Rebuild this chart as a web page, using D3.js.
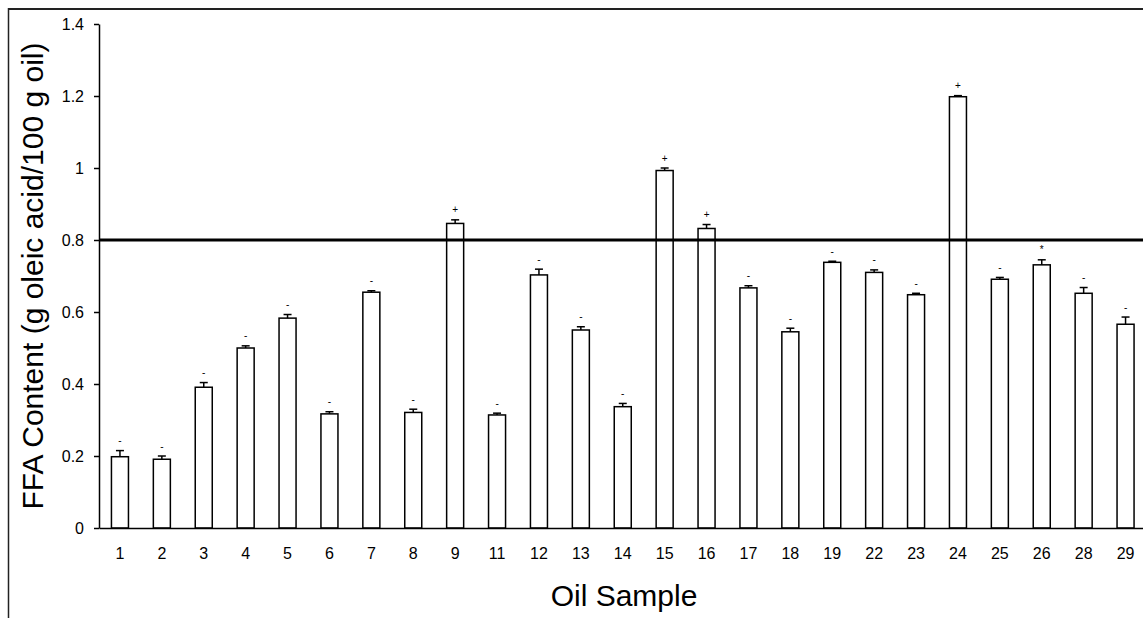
<!DOCTYPE html>
<html>
<head>
<meta charset="utf-8">
<script src="https://cdn.jsdelivr.net/npm/d3@7/dist/d3.min.js"></script>
<style>
  html, body { margin: 0; padding: 0; background: #fff; }
  svg { display: block; font-family: "Liberation Sans", Arial, sans-serif; }
</style>
</head>
<body>
<svg id="chart" width="1143" height="618"></svg>
<script>
const categories = ["1","2","3","4","5","6","7","8","9","11","12","13","14","15","16","17","18","19","22","23","24","25","26","28","29"];
const ffaValues  = [0.198,0.191,0.391,0.500,0.583,0.317,0.655,0.321,0.846,0.314,0.703,0.550,0.337,0.993,0.832,0.667,0.545,0.738,0.710,0.648,1.198,0.691,0.731,0.652,0.566];
const ffaErrors  = [0.017,0.009,0.013,0.006,0.010,0.006,0.004,0.009,0.010,0.005,0.016,0.009,0.009,0.007,0.011,0.006,0.010,0.003,0.007,0.004,0.003,0.005,0.014,0.016,0.020];
const markers    = ["-","-","-","-","-","-","-","-","+","-","-","-","-","+","+","-","-","-","-","-","+","-","*","-","-"];
const yTickValues = [0, 0.2, 0.4, 0.6, 0.8, 1.0, 1.2, 1.4];
const yTickLabels = ["0","0.2","0.4","0.6","0.8","1","1.2","1.4"];
const limitValue = 0.8;
const xTitle = "Oil Sample";
const yTitle = "FFA Content (g oleic acid/100 g oil)";

(function () {
const svg = d3.select("#chart");
const W = 1143, H = 618;
const pLeft = 99, pTop = 24, pBottom = 528, pRight = 1146.5;

const x = d3.scaleBand().domain(categories).range([pLeft, pRight]).paddingInner(0.594).paddingOuter(0.297);
const y = d3.scaleLinear().domain([0, 1.4]).range([pBottom, pTop]);

const data = categories.map((c, i) => ({ c, v: ffaValues[i], e: ffaErrors[i], m: markers[i] }));

// frame
svg.append("line").attr("x1", 8).attr("x2", W).attr("y1", 9).attr("y2", 9).attr("stroke", "#222").attr("stroke-width", 2);
svg.append("line").attr("x1", 8.5).attr("x2", 8.5).attr("y1", 8).attr("y2", H).attr("stroke", "#222").attr("stroke-width", 1.5);

// bars
const bw = x.bandwidth();
svg.append("g").selectAll("rect").data(data).join("rect")
  .attr("x", d => x(d.c))
  .attr("y", d => y(d.v))
  .attr("width", bw)
  .attr("height", d => y(0) - y(d.v))
  .attr("fill", "#fff")
  .attr("stroke", "#000")
  .attr("stroke-width", 1.5);

// error bars
const eg = svg.append("g").attr("stroke", "#000").attr("stroke-width", 1.5);
eg.selectAll("line.v").data(data).join("line").attr("class", "v")
  .attr("x1", d => x(d.c) + bw / 2).attr("x2", d => x(d.c) + bw / 2)
  .attr("y1", d => y(d.v)).attr("y2", d => y(d.v + d.e));
eg.selectAll("line.cap").data(data).join("line").attr("class", "cap")
  .attr("x1", d => x(d.c) + bw / 2 - 4).attr("x2", d => x(d.c) + bw / 2 + 4)
  .attr("y1", d => y(d.v + d.e)).attr("y2", d => y(d.v + d.e));

// markers
svg.append("g").selectAll("text").data(data).join("text")
  .attr("x", d => x(d.c) + bw / 2)
  .attr("y", d => y(d.v + d.e) - 6.5)
  .attr("text-anchor", "middle")
  .attr("font-size", 10)
  .attr("fill", "#000")
  .text(d => d.m);

// limit line
svg.append("line")
  .attr("x1", pLeft).attr("x2", W)
  .attr("y1", y(limitValue)).attr("y2", y(limitValue))
  .attr("stroke", "#000").attr("stroke-width", 3);

// y axis
const yAxis = d3.axisLeft(y).tickValues(yTickValues)
  .tickFormat((d, i) => yTickLabels[i]).tickSize(5).tickSizeOuter(0).tickPadding(10);
const yg = svg.append("g").attr("transform", `translate(${pLeft},0)`).call(yAxis);
yg.attr("font-size", 16).attr("font-family", "Liberation Sans, Arial, sans-serif");
yg.select(".domain").attr("stroke", "#000").attr("stroke-width", 1.5);
yg.selectAll(".tick line").attr("stroke", "#000").attr("stroke-width", 1.5);
yg.selectAll(".tick text").attr("fill", "#000");

// x axis
const xAxis = d3.axisBottom(x).tickSize(0).tickSizeOuter(0).tickPadding(20);
const xg = svg.append("g").attr("transform", `translate(0,${pBottom})`).call(xAxis);
xg.attr("font-size", 16).attr("font-family", "Liberation Sans, Arial, sans-serif");
xg.select(".domain").attr("stroke", "#000").attr("stroke-width", 1.5);
xg.selectAll(".tick text").attr("fill", "#000");

// titles
svg.append("text")
  .attr("x", 624).attr("y", 606)
  .attr("text-anchor", "middle")
  .attr("font-size", 30)
  .attr("fill", "#000")
  .text(xTitle);

svg.append("text")
  .attr("transform", `translate(43,${(pTop + pBottom) / 2}) rotate(-90)`)
  .attr("text-anchor", "middle")
  .attr("font-size", 30)
  .attr("fill", "#000")
  .text(yTitle);
})();
</script>
</body>
</html>
